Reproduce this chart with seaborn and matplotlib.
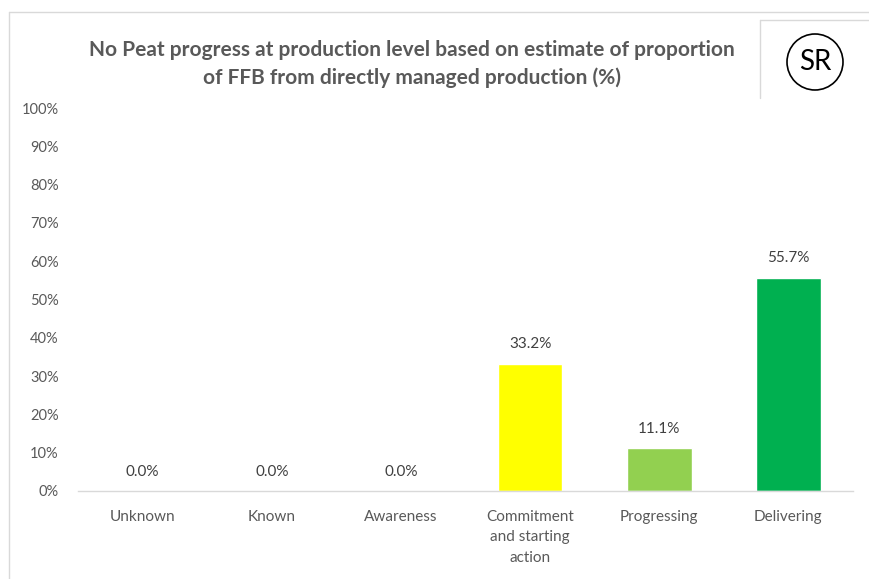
import seaborn as sns
import pandas as pd
import matplotlib.pyplot as plt
from matplotlib.patches import Circle
from matplotlib.lines import Line2D

categories = ["Unknown", "Known", "Awareness", "Commitment\nand starting\naction", "Progressing", "Delivering"]
values = [0.0, 0.0, 0.0, 33.2, 11.1, 55.7]
colors = ["#FFFF00", "#FFFF00", "#FFFF00", "#FFFF00", "#92D050", "#00B050"]
yticks = list(range(0, 101, 10))

df = pd.DataFrame({"stage": categories, "pct": values})

sns.set_style("white")
plt.rcParams['font.family'] = ['Lato', 'DejaVu Sans']
grey = "#595959"

fig = plt.figure(figsize=(8.69, 5.79), dpi=100, facecolor="w")
ax = fig.add_axes([78 / 869, 1 - 491 / 579, (853 - 78) / 869, (491 - 108) / 579])

sns.barplot(data=df, x="stage", y="pct", hue="stage", palette=colors,
            width=0.5, legend=False, ax=ax, saturation=1)

ax.set_ylim(0, 100)
ax.set_xlim(-0.5, len(categories) - 0.5)
ax.set_yticks(yticks)
ax.set_yticklabels([f"{t}%" for t in yticks], color=grey, fontsize=10.5)
ax.set_xticks(range(len(categories)))
ax.set_xticklabels(categories, linespacing=1.55)
ax.tick_params(axis='x', colors=grey, labelsize=11, length=0, pad=14)
ax.tick_params(axis='y', length=0, pad=14)
ax.set_xlabel("")
ax.set_ylabel("")
for s in ["top", "left", "right"]:
    ax.spines[s].set_visible(False)
ax.spines["bottom"].set_color("#D9D9D9")
ax.spines["bottom"].set_linewidth(1)

for i, v in enumerate(values):
    ax.annotate(f"{v:.1f}%", (i, v), xytext=(0, 9), textcoords="offset points",
                ha="center", va="bottom", color="#404040", fontsize=11)

fig.text(412 / 869, 1 - 64 / 579,
         "No Peat progress at production level based on estimate of proportion\nof FFB from directly managed production (%)",
         ha="center", va="center", fontsize=15, fontweight="bold", color=grey, linespacing=1.4)

# outer frame lines
fig.add_artist(Line2D([9 / 869, 1], [1 - 12 / 579, 1 - 12 / 579], color="#D9D9D9", lw=1, transform=fig.transFigure))
fig.add_artist(Line2D([9 / 869, 9 / 869], [0, 1 - 12 / 579], color="#D9D9D9", lw=1, transform=fig.transFigure))
# SR box
fig.add_artist(Line2D([760 / 869, 1], [1 - 20 / 579, 1 - 20 / 579], color="#D9D9D9", lw=1, transform=fig.transFigure))
fig.add_artist(Line2D([760 / 869, 760 / 869], [1 - 98 / 579, 1 - 20 / 579], color="#D9D9D9", lw=1, transform=fig.transFigure))
circ = Circle((815, 579 - 62), 28, transform=None, fill=False, ec="black", lw=1.2)
fig.add_artist(circ)
fig.text(815 / 869, 1 - 62 / 579, "SR", ha="center", va="center", fontsize=20, color="black")

fig.savefig("out.png", dpi=100, facecolor="w")
